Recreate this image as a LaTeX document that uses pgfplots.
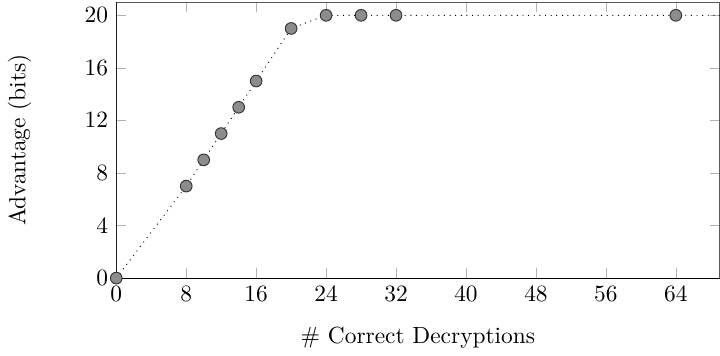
\documentclass[border=0pt]{standalone}
\usepackage{pgfplots}
\pgfplotsset{compat=1.18}
\begin{document}
\begin{tikzpicture}
\begin{axis}[
  scale only axis,
  width=258pt, height=118pt,
  xmin=0, xmax=69, ymin=0, ymax=21,
  xtick={0,8,...,64}, ytick={0,4,...,20},
  axis line style={gray!70!black},
  major tick style={gray!60},
  xlabel={\# Correct Decryptions},
  ylabel={Advantage (bits)},
  ylabel shift=16pt,
  xlabel shift=4pt,
]
\addplot[black, dotted, mark=*, mark options={solid, fill=gray!90, draw=black!80, scale=1.25}]
coordinates {(0,0) (8,7) (10,9) (12,11) (14,13) (16,15) (20,19) (24,20) (28,20) (32,20) (64,20) (128,20)};
\draw[black] (rel axis cs:0,1) -- (rel axis cs:0,0) -- (rel axis cs:1,0);
\end{axis}
\end{tikzpicture}
\end{document}
